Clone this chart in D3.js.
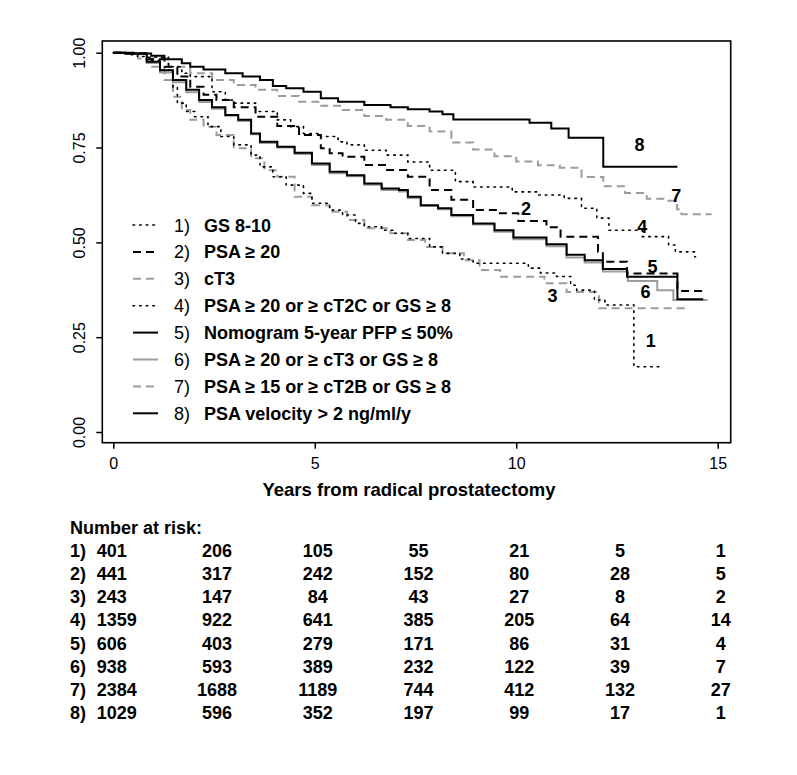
<!DOCTYPE html>
<html>
<head>
<meta charset="utf-8">
<script src="https://cdn.jsdelivr.net/npm/d3@7"></script>
<style>
  html, body { margin: 0; padding: 0; background: #fff; }
  svg { display: block; }
  text { font-family: "Liberation Sans", Arial, sans-serif; fill: #000; }
</style>
</head>
<body>
<svg id="chart" width="797" height="775"></svg>
<script>
// ---------------- DATA ----------------
const groupIds = ["1)", "2)", "3)", "4)", "5)", "6)", "7)", "8)"];
const groupLabels = [
  "GS 8-10",
  "PSA \u2265 20",
  "cT3",
  "PSA \u2265 20 or \u2265 cT2C or GS \u2265 8",
  "Nomogram 5-year PFP \u2264 50%",
  "PSA \u2265 20 or \u2265 cT3 or GS \u2265 8",
  "PSA \u2265 15 or \u2265 cT2B or GS \u2265 8",
  "PSA velocity > 2 ng/ml/y"
];
const xTicks = [0, 5, 10, 15];
const yTicks = [0, 0.25, 0.5, 0.75, 1];
const yTickLabels = ["0.00", "0.25", "0.50", "0.75", "1.00"];
const xTitle = "Years from radical prostatectomy";
const riskTitle = "Number at risk:";
const riskTimes = [0, 2.5, 5, 7.5, 10, 12.5, 15];

const risk1 = [401, 206, 105, 55, 21, 5, 1];
const risk2 = [441, 317, 242, 152, 80, 28, 5];
const risk3 = [243, 147, 84, 43, 27, 8, 2];
const risk4 = [1359, 922, 641, 385, 205, 64, 14];
const risk5 = [606, 403, 279, 171, 86, 31, 4];
const risk6 = [938, 593, 389, 232, 122, 39, 7];
const risk7 = [2384, 1688, 1189, 744, 412, 132, 27];
const risk8 = [1029, 596, 352, 197, 99, 17, 1];

// Kaplan-Meier curves: [years, survival]
const curve1 = [[0,1],[0.35,0.995],[0.6,0.99],[0.83,0.979],[1.16,0.954],[1.48,0.91],[1.59,0.867],[1.81,0.845],[2.02,0.831],[2.35,0.805],[2.67,0.779],[2.99,0.757],[3.42,0.73],[3.64,0.699],[3.96,0.673],[4.29,0.651],[4.72,0.629],[4.93,0.603],[5.37,0.585],[5.69,0.572],[6.01,0.55],[6.23,0.541],[6.66,0.532],[6.98,0.524],[7.31,0.51],[7.85,0.488],[8.17,0.471],[8.6,0.456],[8.93,0.445],[10.3,0.432],[10.6,0.419],[11.0,0.41],[11.35,0.387],[11.5,0.374],[11.94,0.348],[12.2,0.335],[12.92,0.172],[13.56,0.172]];
const curve2 = [[0,1],[0.3,0.998],[0.83,0.983],[1.27,0.963],[1.59,0.937],[1.91,0.91],[2.24,0.889],[2.56,0.875],[2.99,0.856],[3.53,0.831],[4.07,0.807],[4.61,0.783],[5.15,0.748],[5.37,0.735],[5.69,0.726],[6.23,0.704],[6.77,0.691],[7.31,0.673],[7.85,0.638],[8.39,0.612],[8.93,0.585],[9.55,0.577],[10.05,0.556],[10.75,0.54],[11.1,0.515],[12.03,0.475],[12.15,0.449],[12.75,0.418],[14.0,0.372],[14.65,0.372]];
const curve3 = [[0,1],[0.3,0.997],[0.62,0.985],[0.94,0.963],[1.27,0.928],[1.48,0.884],[1.7,0.849],[1.91,0.823],[2.24,0.805],[2.56,0.783],[2.99,0.748],[3.42,0.722],[3.75,0.69],[4.07,0.673],[4.5,0.62],[4.93,0.598],[5.37,0.581],[5.8,0.559],[6.23,0.537],[6.88,0.524],[7.31,0.506],[7.74,0.488],[8.17,0.471],[8.7,0.453],[9.09,0.427],[9.6,0.409],[10.7,0.392],[11.25,0.369],[12.05,0.326],[14.27,0.326]];
const curve4 = [[0,1],[0.4,0.996],[0.83,0.988],[1.37,0.963],[1.7,0.946],[1.91,0.937],[2.45,0.897],[2.78,0.875],[2.99,0.867],[3.53,0.845],[4.07,0.823],[4.4,0.805],[4.72,0.787],[5.15,0.779],[5.58,0.765],[5.8,0.757],[6.23,0.743],[6.77,0.73],[7.31,0.712],[7.85,0.69],[8.49,0.66],[8.93,0.646],[9.9,0.633],[10.54,0.625],[11.19,0.616],[11.62,0.59],[12.0,0.564],[12.3,0.532],[13.13,0.515],[13.78,0.493],[13.95,0.475],[14.43,0.462],[14.45,0.462]];
const curve5 = [[0,1],[0.3,0.998],[0.83,0.976],[1.16,0.954],[1.48,0.928],[1.81,0.902],[2.13,0.875],[2.45,0.856],[2.78,0.836],[3.1,0.823],[3.42,0.787],[3.64,0.765],[4.07,0.752],[4.5,0.736],[4.93,0.708],[5.37,0.686],[5.8,0.677],[6.23,0.655],[6.66,0.642],[7.09,0.638],[7.31,0.62],[7.63,0.598],[8.06,0.59],[8.39,0.572],[8.93,0.55],[9.46,0.532],[9.93,0.513],[10.75,0.495],[11.25,0.467],[11.7,0.453],[12.15,0.43],[12.75,0.409],[14.0,0.35],[14.64,0.35]];
const curve6 = [[0,1],[0.3,0.997],[0.83,0.973],[1.16,0.948],[1.48,0.922],[1.81,0.896],[2.13,0.87],[2.45,0.852],[2.78,0.834],[3.1,0.82],[3.42,0.785],[3.64,0.762],[4.07,0.75],[4.5,0.733],[4.93,0.704],[5.37,0.682],[5.8,0.674],[6.23,0.652],[6.66,0.638],[7.09,0.634],[7.31,0.617],[7.63,0.596],[8.06,0.587],[8.39,0.569],[8.93,0.547],[9.46,0.528],[9.93,0.508],[10.75,0.49],[11.25,0.46],[11.7,0.447],[12.15,0.423],[12.77,0.398],[13.5,0.374],[13.9,0.348],[14.75,0.348]];
const curve7 = [[0,1],[0.3,0.998],[0.835,0.985],[1.37,0.963],[1.91,0.946],[2.45,0.928],[2.99,0.915],[3.53,0.902],[4.07,0.886],[4.61,0.871],[5.15,0.86],[5.69,0.849],[6.23,0.833],[6.77,0.823],[7.31,0.807],[7.85,0.792],[8.39,0.763],[8.93,0.745],[9.46,0.727],[10.0,0.713],[10.54,0.703],[11.08,0.697],[11.62,0.672],[12.16,0.648],[12.7,0.63],[13.24,0.615],[13.74,0.61],[13.99,0.587],[14.1,0.574],[14.85,0.574]];
const curve8 = [[0,1],[0.51,0.998],[0.94,0.992],[1.27,0.983],[1.7,0.972],[1.91,0.963],[2.24,0.956],[2.78,0.946],[3.21,0.937],[3.64,0.928],[3.96,0.912],[4.29,0.906],[4.72,0.897],[5.15,0.88],[5.58,0.871],[6.23,0.862],[6.88,0.856],[7.31,0.851],[7.85,0.845],[8.17,0.838],[8.44,0.824],[10.33,0.815],[10.87,0.8],[11.3,0.776],[12.16,0.699],[14.0,0.699]];

// curve end labels (data coordinates)
const curveLabelText = ["1", "2", "3", "4", "5", "6", "7", "8"];
const curveLabelT = [13.34, 10.24, 10.9, 13.13, 13.38, 13.21, 13.97, 13.06];
const curveLabelV = [0.241, 0.587, 0.359, 0.54, 0.436, 0.368, 0.622, 0.757];

// ---------------- STYLE ----------------
const BLACK = "#000000", GRAY = "#9c9c9c";
const DOT = "1.6,5", DASH = "8,5";
const styles = [
  { color: BLACK, dash: DOT, width: 1.6 },
  { color: BLACK, dash: DASH, width: 2 },
  { color: GRAY, dash: DASH, width: 2 },
  { color: BLACK, dash: DOT, width: 1.6 },
  { color: BLACK, dash: null, width: 2 },
  { color: GRAY, dash: null, width: 2 },
  { color: GRAY, dash: DASH, width: 2 },
  { color: BLACK, dash: null, width: 2 }
];

const curves = [curve1, curve2, curve3, curve4, curve5, curve6, curve7, curve8];
const risks = [risk1, risk2, risk3, risk4, risk5, risk6, risk7, risk8];

// ---------------- LAYOUT ----------------
const svg = d3.select("#chart");
svg.append("rect").attr("width", 797).attr("height", 775).attr("fill", "#fff");

const frame = { left: 102.3, right: 730.7, top: 41, bottom: 442.7 };
const x = d3.scaleLinear().domain([0, 15]).range([113.3, 717.7]);
const y = d3.scaleLinear().domain([0, 1]).range([432, 52.7]);

// axes
const xAxis = d3.axisBottom(x).tickValues(xTicks).tickSize(6).tickPadding(9).tickFormat(d3.format("d"));
const gx = svg.append("g").attr("transform", `translate(0,${frame.bottom})`).call(xAxis);
gx.select(".domain").remove();
gx.selectAll("line").attr("stroke", "#000").attr("stroke-width", 1.5);
gx.selectAll("text").attr("font-size", 16).attr("font-family", "Liberation Sans, Arial, sans-serif");

const yAxis = d3.axisLeft(y).tickValues(yTicks).tickSize(6).tickFormat((d, i) => yTickLabels[i]);
const gy = svg.append("g").attr("transform", `translate(${frame.left},0)`).call(yAxis);
gy.select(".domain").remove();
gy.selectAll("line").attr("stroke", "#000").attr("stroke-width", 1.5);
gy.selectAll("text")
  .attr("font-size", 16)
  .attr("font-family", "Liberation Sans, Arial, sans-serif")
  .attr("x", null).attr("dy", null)
  .attr("text-anchor", "middle")
  .attr("transform", "translate(-17.5,0) rotate(-90)");

// frame
svg.append("rect")
  .attr("x", frame.left).attr("y", frame.top)
  .attr("width", frame.right - frame.left).attr("height", frame.bottom - frame.top)
  .attr("fill", "none").attr("stroke", "#000").attr("stroke-width", 1.6);

// curves (gray first so black lies over gray where close)
const line = d3.line().x(d => x(d[0])).y(d => y(d[1])).curve(d3.curveStepAfter);
const order = [6, 2, 5, 0, 3, 1, 4, 7];
order.forEach(i => {
  const st = styles[i];
  svg.append("path")
    .datum(curves[i])
    .attr("d", line)
    .attr("fill", "none")
    .attr("stroke", st.color)
    .attr("stroke-width", st.width)
    .attr("stroke-dasharray", st.dash)
    .attr("stroke-linecap", st.dash === DOT ? "round" : "butt");
});

// curve labels
curveLabelText.forEach((t, i) => {
  svg.append("text")
    .attr("x", x(curveLabelT[i])).attr("y", y(curveLabelV[i]))
    .attr("text-anchor", "middle").attr("dominant-baseline", "central")
    .attr("font-family", "Liberation Serif, Times New Roman, serif")
    .attr("font-weight", "bold").attr("font-size", 18)
    .text(t);
});

// legend
const legTop = 225, legStep = 26.9;
groupIds.forEach((id, i) => {
  const cy = legTop + i * legStep;
  const st = styles[i];
  svg.append("line")
    .attr("x1", 133).attr("x2", 158).attr("y1", cy).attr("y2", cy)
    .attr("stroke", st.color).attr("stroke-width", st.width)
    .attr("stroke-dasharray", st.dash)
    .attr("stroke-linecap", st.dash === DOT ? "round" : "butt");
  svg.append("text").attr("x", 174).attr("y", cy + 6.5)
    .attr("font-size", 18).text(id);
  svg.append("text").attr("x", 204).attr("y", cy + 6.5)
    .attr("font-size", 18).attr("font-weight", "bold").text(groupLabels[i]);
});

// x title
svg.append("text")
  .attr("x", 409).attr("y", 496)
  .attr("text-anchor", "middle").attr("font-size", 18.5).attr("font-weight", "bold")
  .text(xTitle);

// number at risk table
const tabTop = 534, tabStep = 23.1;
svg.append("text").attr("x", 70).attr("y", tabTop)
  .attr("font-size", 18).attr("font-weight", "bold").text(riskTitle);
risks.forEach((row, i) => {
  const by = tabTop + (i + 1) * tabStep;
  svg.append("text").attr("x", 70).attr("y", by)
    .attr("font-size", 18).attr("font-weight", "bold").text(groupIds[i]);
  row.forEach((n, j) => {
    const t = svg.append("text").attr("y", by)
      .attr("font-size", 18).attr("font-weight", "bold").text(n);
    if (j === 0) t.attr("x", 96.7);
    else t.attr("x", x(riskTimes[j]) + 3).attr("text-anchor", "middle");
  });
});
</script>
</body>
</html>
